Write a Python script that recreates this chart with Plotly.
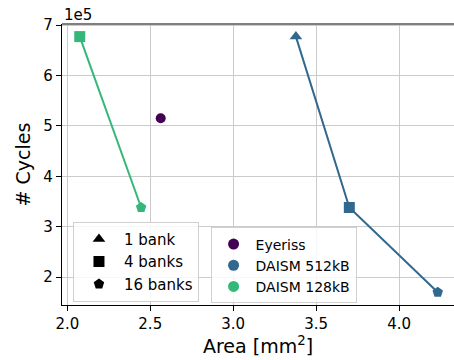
import plotly.graph_objects as go

# Data
daism128_area = [2.075, 2.445]
daism128_cycles = [6.77e5, 3.38e5]
daism128_symbols = ["square", "pentagon"]

daism512_area = [3.378, 3.70, 4.233]
daism512_cycles = [6.77e5, 3.38e5, 1.70e5]
daism512_symbols = ["triangle-up", "square", "pentagon"]

eyeriss_area = [2.563]
eyeriss_cycles = [5.15e5]

bank_labels = ["1 bank", "4 banks", "16 banks"]
bank_symbols = ["triangle-up", "square", "pentagon"]

series_labels = ["Eyeriss", "DAISM 512kB", "DAISM 128kB"]
series_colors = ["#440154", "#31688e", "#35b779"]

x_ticks = [2.0, 2.5, 3.0, 3.5, 4.0]
y_ticks = [2e5, 3e5, 4e5, 5e5, 6e5, 7e5]
y_ticklabels = ["2", "3", "4", "5", "6", "7"]

FONT = "DejaVu Sans"

fig = go.Figure()

fig.add_trace(go.Scatter(
    x=daism128_area, y=daism128_cycles, mode="lines+markers",
    line=dict(color=series_colors[2], width=2),
    marker=dict(symbol=daism128_symbols, size=11, color=series_colors[2]),
    showlegend=False))
fig.add_trace(go.Scatter(
    x=daism512_area, y=daism512_cycles, mode="lines+markers",
    line=dict(color=series_colors[1], width=2),
    marker=dict(symbol=daism512_symbols, size=11, color=series_colors[1]),
    showlegend=False))
fig.add_trace(go.Scatter(
    x=eyeriss_area, y=eyeriss_cycles, mode="markers",
    marker=dict(symbol="circle", size=10, color=series_colors[0]),
    showlegend=False))

# Legend 1: bank markers
for lab, sym in zip(bank_labels, bank_symbols):
    fig.add_trace(go.Scatter(
        x=[None], y=[None], mode="markers", name=lab,
        marker=dict(symbol=sym, size=11, color="black"),
        legend="legend"))

# Legend 2: series colours
for lab, col in zip(series_labels, series_colors):
    fig.add_trace(go.Scatter(
        x=[None], y=[None], mode="markers", name=lab,
        marker=dict(symbol="circle", size=11, color=col),
        legend="legend2"))

axis_common = dict(
    showgrid=True, gridcolor="#cbcbcb", gridwidth=1.2,
    showline=True, linecolor="black", linewidth=1.3,
    ticks="outside", ticklen=5, tickcolor="black", tickwidth=1.2,
    tickfont=dict(family=FONT, size=15, color="black"),
    zeroline=False,
)

fig.update_layout(
    width=454, height=360,
    margin=dict(l=62, r=0, t=24, b=55),
    paper_bgcolor="white", plot_bgcolor="white",
    font=dict(family=FONT, size=15, color="black"),
    xaxis=dict(range=[1.968, 4.331], tickvals=x_ticks,
               ticktext=["2.0", "2.5", "3.0", "3.5", "4.0"],
               title=dict(text="Area [mm<sup>2</sup>]",
                          font=dict(family=FONT, size=19), standoff=5),
               **axis_common),
    yaxis=dict(range=[1.446e5, 7.02e5], tickvals=y_ticks, ticktext=y_ticklabels,
               title=dict(text="# Cycles", font=dict(family=FONT, size=19), standoff=7),
               **axis_common),
    legend=dict(x=0.028, y=0.296, xanchor="left", yanchor="top",
                bgcolor="rgba(255,255,255,0.85)", bordercolor="#d0d0d0", borderwidth=1,
                font=dict(family=FONT, size=15), itemwidth=40),
    legend2=dict(x=0.379, y=0.276, xanchor="left", yanchor="top",
                 bgcolor="rgba(255,255,255,0.85)", bordercolor="#d0d0d0", borderwidth=1,
                 font=dict(family=FONT, size=14), itemwidth=34),
    shapes=[dict(type="line", xref="paper", yref="paper", x0=0, x1=1, y0=1, y1=1,
                 line=dict(color="#555555", width=1.5))],
    annotations=[dict(text="1e5", xref="paper", yref="paper", x=0, y=1,
                      xanchor="left", yanchor="bottom", showarrow=False,
                      font=dict(family=FONT, size=15, color="black"), yshift=-2)],
)

fig.write_html("out.html", config={"displayModeBar": False},
               post_script="document.body.style.margin='0';document.body.style.padding='0';")
